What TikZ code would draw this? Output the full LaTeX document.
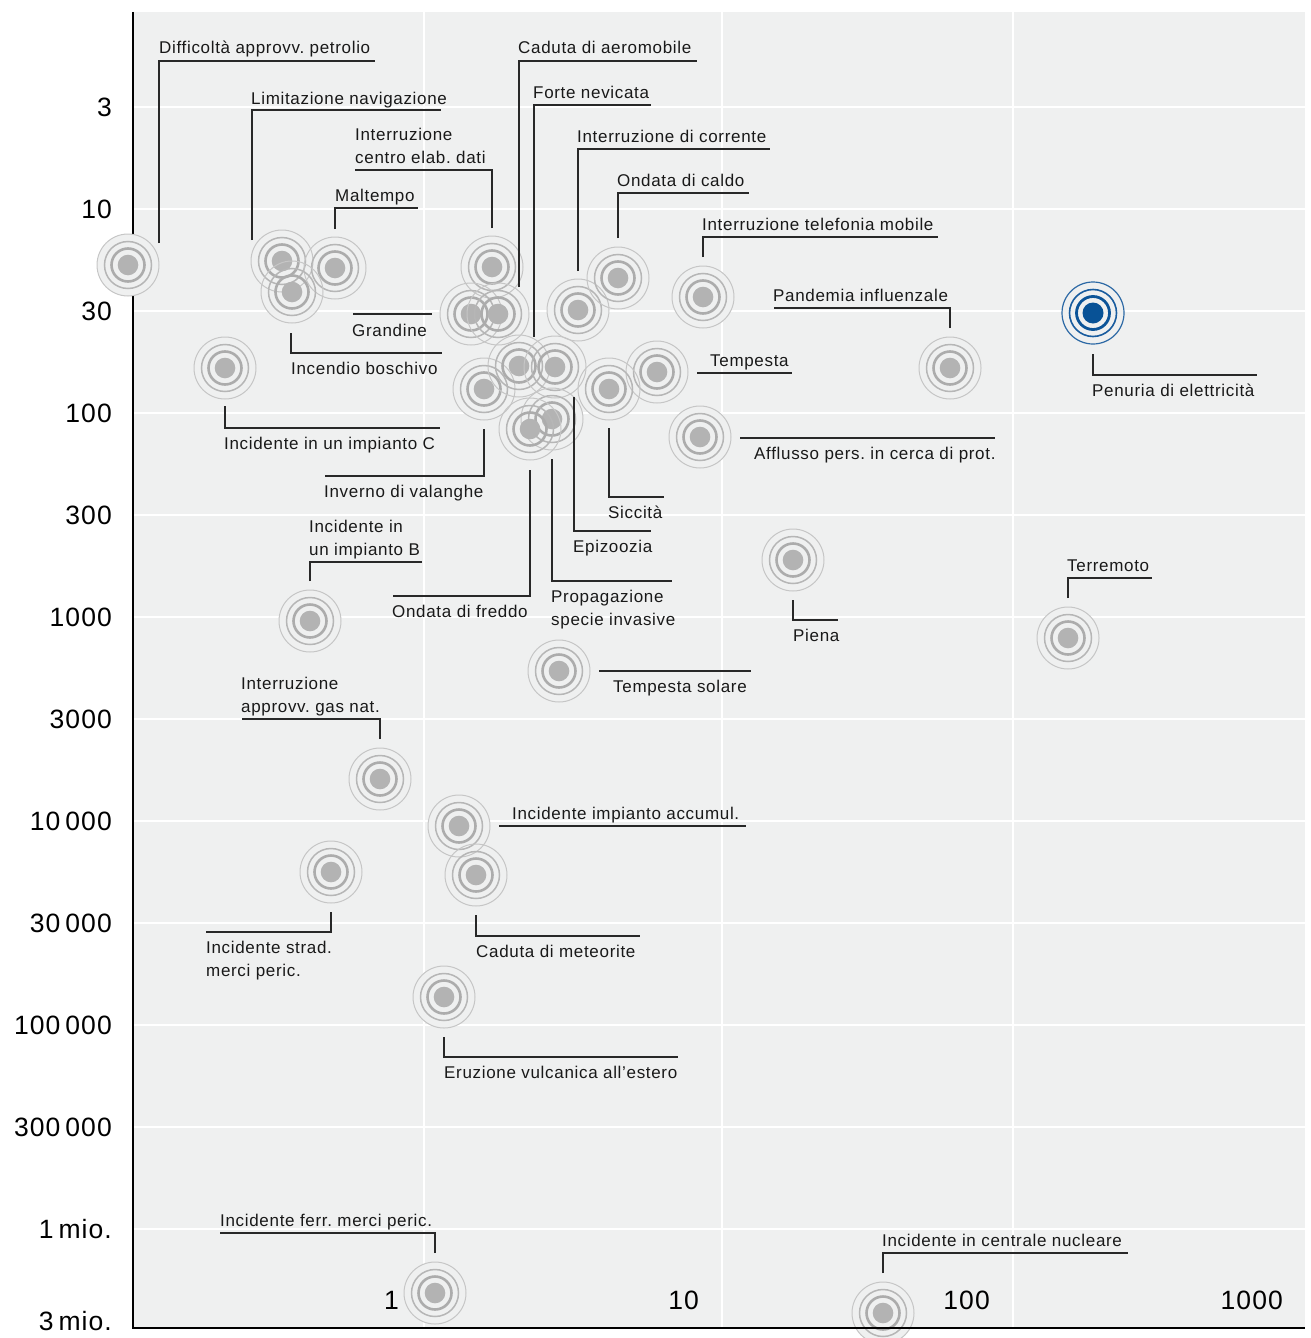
\documentclass[tikz,border=0pt]{standalone}
\usepackage{fontspec}
\newfontfamily\lblfont{Liberation Sans}[LetterSpace=4]
\newfontfamily\axfont{Liberation Sans}[LetterSpace=4]
\definecolor{bg}{RGB}{239,240,240}
\definecolor{rgA}{RGB}{198,198,198}
\definecolor{rgB}{RGB}{182,182,182}
\definecolor{rgC}{RGB}{172,172,172}
\definecolor{rgD}{RGB}{179,179,179}
\definecolor{blA}{RGB}{45,105,165}
\definecolor{blB}{RGB}{25,92,158}
\definecolor{blC}{RGB}{12,84,152}
\definecolor{blD}{RGB}{8,82,150}
\definecolor{leadc}{RGB}{40,40,40}
\definecolor{txt}{RGB}{25,25,25}
\tikzset{
  gridln/.style={draw=white,line width=2.5pt},
  axisln/.style={draw=black,line width=2pt},
  lead/.style={draw=leadc,line width=1.3pt},
  lbl/.style={font=\lblfont\fontsize{17}{23}\selectfont\frenchspacing,text=txt,inner sep=0pt,anchor=base west},
  axl/.style={font=\axfont\fontsize{26.5}{30}\selectfont,text=black,inner sep=0pt,anchor=east},
}
\newcommand\grayrings[1]{%
  \draw[rgA,line width=1pt] (#1) circle (31pt);
  \draw[rgB,line width=1.5pt] (#1) circle (23.5pt);
  \draw[rgC,line width=2.6pt] (#1) circle (16.5pt);
  \fill[rgD] (#1) circle (10.3pt);}
\newcommand\bluerings[1]{%
  \draw[blA,line width=1.2pt] (#1) circle (31pt);
  \draw[blB,line width=1.6pt] (#1) circle (23.5pt);
  \draw[blC,line width=2.8pt] (#1) circle (16.5pt);
  \fill[blD] (#1) circle (10.5pt);}
\newcommand\tsp{\hspace{5pt}}
\begin{document}
\begin{tikzpicture}[x=1pt,y=-1pt]
\useasboundingbox (0,0) rectangle (1310,1338);
\clip (0,0) rectangle (1310,1338);
\fill[bg] (133,12) rectangle (1305,1328);
% grid
\foreach \gy in {107,209,311,413,515,617,719,821,923,1025,1127,1229}
  \draw[gridln] (134,\gy) -- (1305,\gy);
\foreach \gx in {424,722,1013}
  \draw[gridln] (\gx,12) -- (\gx,1327);
\draw[axisln] (133,12) -- (133,1329);
% marker positions
\coordinate (m1) at (128,265);
\coordinate (m2) at (282,261);
\coordinate (m3) at (492,267);
\coordinate (m4) at (335,268);
\coordinate (m5) at (471,314);
\coordinate (m6) at (292,292);
\coordinate (m7) at (225,368);
\coordinate (m8) at (484,389);
\coordinate (m9) at (498,314);
\coordinate (m10) at (519,366);
\coordinate (m11) at (578,310);
\coordinate (m12) at (618,278);
\coordinate (m13) at (703,297);
\coordinate (m14) at (950,368);
\coordinate (m15) at (1093,313);
\coordinate (m16) at (657,372);
\coordinate (m17) at (700,437);
\coordinate (m18) at (609,389);
\coordinate (m19) at (555,367);
\coordinate (m20) at (552,419);
\coordinate (m21) at (530,429);
\coordinate (m22) at (310,621);
\coordinate (m23) at (793,560);
\coordinate (m24) at (1068,638);
\coordinate (m25) at (559,671);
\coordinate (m26) at (380,779);
\coordinate (m27) at (459,826);
\coordinate (m28) at (331,872);
\coordinate (m29) at (476,875);
\coordinate (m30) at (444,997);
\coordinate (m31) at (435,1293);
\coordinate (m32) at (883,1313);
% fills
\foreach \i in {1,...,32} \fill[bg] (m\i) circle (31pt);
% rings
\foreach \i in {1,...,14,16,17,...,32} {\grayrings{m\i}}
\bluerings{m15}
\draw[axisln] (132,1328) -- (1305,1328);
% leaders
\draw[lead] (159,243) -- (159,61) -- (375,61);
\draw[lead] (252,240) -- (252,110) -- (441,110);
\draw[lead] (492,228) -- (492,170) -- (355,170);
\draw[lead] (335,229) -- (335,208) -- (418,208);
\draw[lead] (353,314) -- (432,314);
\draw[lead] (291,333) -- (291,353) -- (442,353);
\draw[lead] (225,406) -- (225,428) -- (440,428);
\draw[lead] (484,429) -- (484,476) -- (325,476);
\draw[lead] (519,287) -- (519,61) -- (697,61);
\draw[lead] (534,337) -- (534,105) -- (651,105);
\draw[lead] (578,271) -- (578,149) -- (770,149);
\draw[lead] (618,238) -- (618,193) -- (749,193);
\draw[lead] (703,257) -- (703,237) -- (938,237);
\draw[lead] (950,328) -- (950,308) -- (774,308);
\draw[lead] (1093,354) -- (1093,375) -- (1257,375);
\draw[lead] (697,373) -- (792,373);
\draw[lead] (740,438) -- (995,438);
\draw[lead] (609,428) -- (609,497) -- (664,497);
\draw[lead] (574,397) -- (574,531) -- (651,531);
\draw[lead] (552,459) -- (552,581) -- (672,581);
\draw[lead] (530,470) -- (530,596) -- (393,596);
\draw[lead] (310,581) -- (310,562) -- (422,562);
\draw[lead] (793,600) -- (793,620) -- (838,620);
\draw[lead] (1068,598) -- (1068,578) -- (1152,578);
\draw[lead] (599,671) -- (751,671);
\draw[lead] (380,739) -- (380,719) -- (242,719);
\draw[lead] (499,826) -- (746,826);
\draw[lead] (331,912) -- (331,932) -- (206,932);
\draw[lead] (476,915) -- (476,936) -- (640,936);
\draw[lead] (444,1037) -- (444,1057) -- (678,1057);
\draw[lead] (435,1253) -- (435,1233) -- (220,1233);
\draw[lead] (883,1273) -- (883,1253) -- (1128,1253);
% labels
\node[lbl] (l1) at (159,54) {Difficoltà approvv. petrolio};
\node[lbl] (l2) at (251,104) {Limitazione navigazione};
\node[lbl] (l3a) at (355,140) {Interruzione};
\node[lbl] (l3b) at (355,163) {centro elab. dati};
\node[lbl] (l4) at (335,201.5) {Maltempo};
\node[lbl] (l5) at (352,336) {Grandine};
\node[lbl] (l6) at (291,374) {Incendio boschivo};
\node[lbl] (l7) at (224,449.5) {Incidente in un impianto C};
\node[lbl] (l8) at (324,497.5) {Inverno di valanghe};
\node[lbl] (l9) at (518,54) {Caduta di aeromobile};
\node[lbl] (l10) at (533,98.5) {Forte nevicata};
\node[lbl] (l11) at (577,142.5) {Interruzione di corrente};
\node[lbl] (l12) at (617,186.5) {Ondata di caldo};
\node[lbl] (l13) at (702,230.5) {Interruzione telefonia mobile};
\node[lbl] (l14) at (773,301.5) {Pandemia influenzale};
\node[lbl] (l15) at (1092,396.5) {Penuria di elettricità};
\node[lbl] (l16) at (710,366.5) {Tempesta};
\node[lbl] (l17) at (754,459.5) {Afflusso pers. in cerca di prot.};
\node[lbl] (l18) at (608,518.5) {Siccità};
\node[lbl] (l19) at (573,552.5) {Epizoozia};
\node[lbl] (l20a) at (551,602.5) {Propagazione};
\node[lbl] (l20b) at (551,625.5) {specie invasive};
\node[lbl] (l21) at (392,617.5) {Ondata di freddo};
\node[lbl] (l22a) at (309,532.5) {Incidente in};
\node[lbl] (l22b) at (309,555.5) {un impianto B};
\node[lbl] (l23) at (793,641.5) {Piena};
\node[lbl] (l24) at (1067,571.5) {Terremoto};
\node[lbl] (l25) at (613,692.5) {Tempesta solare};
\node[lbl] (l26a) at (241,689.5) {Interruzione};
\node[lbl] (l26b) at (241,712.5) {approvv. gas nat.};
\node[lbl] (l27) at (512,819.5) {Incidente impianto accumul.};
\node[lbl] (l28a) at (206,953.5) {Incidente strad.};
\node[lbl] (l28b) at (206,976.5) {merci peric.};
\node[lbl] (l29) at (476,957.5) {Caduta di meteorite};
\node[lbl] (l30) at (444,1078.5) {Eruzione vulcanica all’estero};
\node[lbl] (l31) at (220,1226.5) {Incidente ferr. merci peric.};
\node[lbl] (l32) at (882,1246.5) {Incidente in centrale nucleare};
% y axis labels
\node[axl] (y1) at (112,107) {3};
\node[axl] (y2) at (112,209) {10};
\node[axl] (y3) at (112,311) {30};
\node[axl] (y4) at (112,413) {100};
\node[axl] (y5) at (112,515) {300};
\node[axl] (y6) at (112,617) {1000};
\node[axl] (y7) at (112,719) {3000};
\node[axl] (y8) at (112,821) {10\tsp000};
\node[axl] (y9) at (112,923) {30\tsp000};
\node[axl] (y10) at (112,1025) {100\tsp000};
\node[axl] (y11) at (112,1127) {300\tsp000};
\node[axl] (y12) at (112,1229) {1\tsp mio.};
\node[axl] (y13) at (112,1321) {3\tsp mio.};
% x axis labels
\node[axl] (x1) at (399,1300) {1};
\node[axl] (x2) at (699,1300) {10};
\node[axl] (x3) at (990,1300) {100};
\node[axl] (x4) at (1283,1300) {1000};
\end{tikzpicture}
\end{document}
